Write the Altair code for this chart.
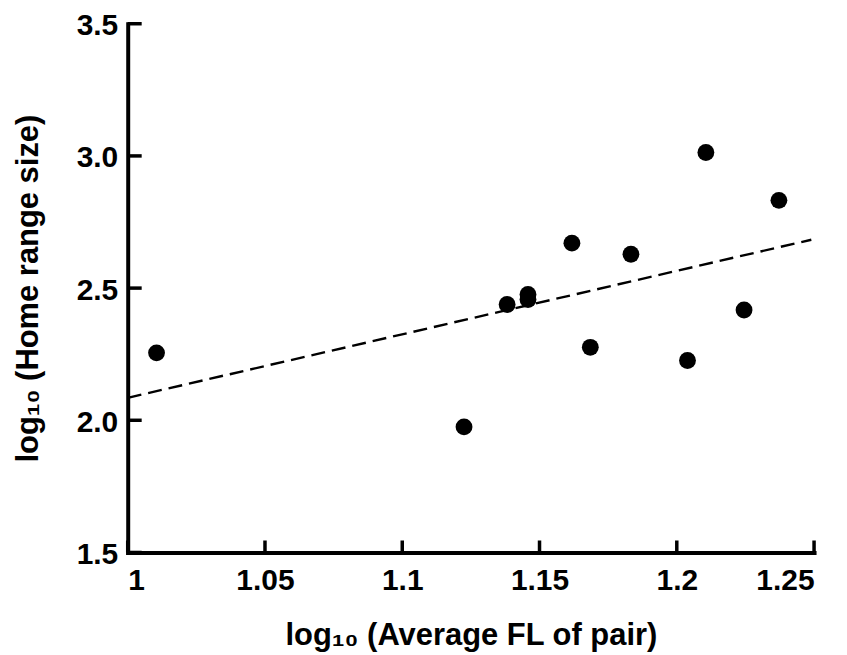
import altair as alt
import pandas as pd

# Data
fl_log = [1.0105, 1.1225, 1.1382, 1.1458, 1.1458, 1.1618, 1.1685, 1.1833, 1.2039, 1.2106, 1.2245, 1.2372]
hr_log = [2.255, 1.975, 2.438, 2.476, 2.457, 2.670, 2.276, 2.628, 2.226, 3.013, 2.417, 2.832]

fit_x = [1.0, 1.249]
fit_y = [2.085, 2.683]

x_ticks = [1.0, 1.05, 1.1, 1.15, 1.2, 1.25]
y_ticks = [1.5, 2.0, 2.5, 3.0, 3.5]

FONT = "Liberation Sans"
W, H = 688, 530

pts = pd.DataFrame({"x": fl_log, "y": hr_log})
fit = pd.DataFrame({"x": fit_x, "y": fit_y})
xt = pd.DataFrame({"x": x_ticks})
yt = pd.DataFrame({"y": y_ticks})

xscale = alt.Scale(domain=[1.0, 1.25], nice=False, zero=False)
yscale = alt.Scale(domain=[1.5, 3.5], nice=False, zero=False)

common_axis = dict(
    ticks=False, grid=False, domainColor="black", domainWidth=4, domainCap="square",
    labelFont=FONT, labelFontSize=30, labelFontWeight="bold", labelColor="black",
    titleFont=FONT, titleFontSize=31, titleFontWeight="bold", titleColor="black",
)
x_axis = alt.Axis(values=x_ticks, format="~g", labelPadding=13, titlePadding=25, **common_axis)
y_axis = alt.Axis(values=y_ticks, format=".1f", labelPadding=10, titlePadding=32,
                  labelOffset=2, **common_axis)
X_TITLE = "log₁₀ (Average FL of pair)"
Y_TITLE = "log₁₀ (Home range size)"


def X():
    return alt.X("x:Q", scale=xscale, axis=x_axis, title=X_TITLE)


def Y():
    return alt.Y("y:Q", scale=yscale, axis=y_axis, title=Y_TITLE)


points = alt.Chart(pts).mark_circle(size=285, color="black", opacity=1).encode(x=X(), y=Y())

line = alt.Chart(fit).mark_line(color="black", strokeWidth=2.4, strokeDash=[14, 7]).encode(x=X(), y=Y())

yticks = alt.Chart(yt).mark_rule(color="black", strokeWidth=3.5).encode(
    y=Y(), x=alt.value(0), x2=alt.value(14),
)

xticks = alt.Chart(xt).mark_rule(color="black", strokeWidth=3.5).encode(
    x=X(), y=alt.value(H), y2=alt.value(H - 12),
)

chart = alt.layer(line, points, yticks, xticks).properties(
    width=W, height=H,
    autosize=alt.AutoSizeParams(type="none"),
    padding={"left": 120, "top": 15, "right": 25, "bottom": 100},
    background="white",
).configure_view(stroke=None)

chart.save("out.html", embed_options={"renderer": "svg", "actions": False})
